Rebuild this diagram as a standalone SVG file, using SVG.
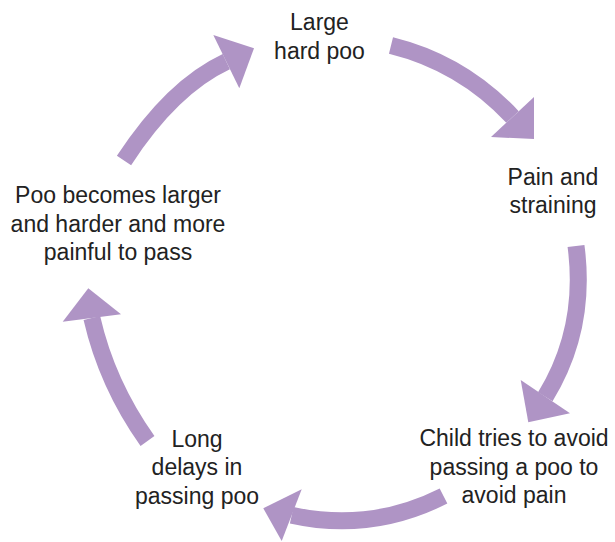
<svg xmlns="http://www.w3.org/2000/svg" width="615" height="542" viewBox="0 0 615 542">
<style>
.band{fill:none;stroke:#AF94C5;stroke-width:17;stroke-linecap:butt}
.head{fill:#AF94C5}
.lbl{font-family:"Liberation Sans",Arial,sans-serif;font-size:23px;fill:#222;text-anchor:middle}
</style>
<rect width="615" height="542" fill="#fff"/>
<g id="connectors">
  <g id="arrow1">
    <path class="band" d="M391,45.5 Q462,63 512.5,117"/>
    <polygon class="head" points="534,97 534,139 491,137"/>
  </g>
  <g id="arrow2">
    <path class="band" d="M576,246 Q587,328.5 545.3,396.7"/>
    <polygon class="head" points="520.7,380 528.3,422.3 570,413.3"/>
  </g>
  <g id="arrow3">
    <path class="band" d="M443.5,496 Q370.6,532.7 291.7,515.2"/>
    <polygon class="head" points="301.7,489.3 263.3,508.3 281.7,541"/>
  </g>
  <g id="arrow4">
    <path class="band" d="M147.5,441 Q107,384 91.85,318"/>
    <polygon class="head" points="62.7,321.7 88.3,288.3 121,314.3"/>
  </g>
  <g id="arrow5">
    <path class="band" d="M124,160.5 Q172,87 226.3,61.65"/>
    <polygon class="head" points="213.3,35 254,48.3 239.3,88.3"/>
  </g>
</g>
<g id="node-large-hard-poo">
  <text class="lbl" x="319.5" y="29.5">Large</text>
  <text class="lbl" x="319.5" y="58.5">hard poo</text>
</g>
<g id="node-pain-straining">
  <text class="lbl" x="553" y="184.5">Pain and</text>
  <text class="lbl" x="553" y="213">straining</text>
</g>
<g id="node-child-avoids">
  <text class="lbl" x="514" y="446">Child tries to avoid</text>
  <text class="lbl" x="514" y="474.5">passing a poo to</text>
  <text class="lbl" x="514" y="503">avoid pain</text>
</g>
<g id="node-long-delays">
  <text class="lbl" x="197" y="446.5">Long</text>
  <text class="lbl" x="197" y="475">delays in</text>
  <text class="lbl" x="197" y="503.5">passing poo</text>
</g>
<g id="node-poo-larger">
  <text class="lbl" x="118" y="203">Poo becomes larger</text>
  <text class="lbl" x="118" y="231.5">and harder and more</text>
  <text class="lbl" x="118" y="260">painful to pass</text>
</g>
</svg>
